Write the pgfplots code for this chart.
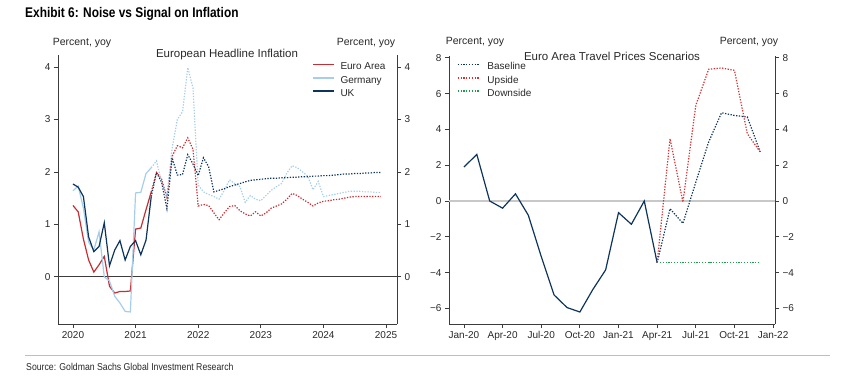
\documentclass[border=0pt]{standalone}
\usepackage{pgfplots}
\pgfplotsset{compat=1.18}
\usepackage{fontspec}
\setmainfont{Liberation Sans}
\newfontfamily\titlefont[FakeStretch=0.85]{Liberation Sans}
\newfontfamily\srcfont[FakeStretch=0.87]{Liberation Sans}
\definecolor{eared}{RGB}{200,45,50}
\definecolor{delight}{RGB}{166,206,236}
\definecolor{uknavy}{RGB}{12,52,92}
\definecolor{upred}{RGB}{210,50,50}
\definecolor{downgreen}{RGB}{30,155,80}
\definecolor{axgray}{RGB}{60,60,60}
\definecolor{txtgray}{RGB}{40,40,40}
\definecolor{zerogray}{RGB}{200,200,200}
\definecolor{sepgray}{RGB}{190,190,190}
\tikzset{dots/.style={dash pattern=on 1.3pt off 1.5pt}}
\pgfplotsset{
  gsaxis/.style={
    scale only axis,
    anchor=south west,
    axis line style={draw=axgray, line width=0.8pt, -},
    tick style={draw=axgray, line width=0.8pt},
    tick align=outside,
    major tick length=4pt,
    ticklabel style={font=\fontsize{10}{12}\selectfont, text=txtgray},
    /pgf/number format/assume math mode=true,
    /pgf/number format/1000 sep={},
    legend cell align=left,
    legend image code/.code={\draw[##1, line width=1.5pt] (0pt,3pt) -- (21pt,3pt);},
  },
  gslegend/.style={draw=none, fill=none, anchor=north west,
    font=\fontsize{10}{12}\selectfont, text=txtgray, row sep=4.3pt, column sep=6pt,
    inner sep=0pt, outer sep=0pt, nodes={inner sep=0pt, outer sep=0pt, text height=7pt, text depth=2pt}},
}
\begin{document}
\begin{tikzpicture}
\path[use as bounding box] (0pt,0pt) rectangle (850pt,383pt);

% Title
\node[anchor=west, inner sep=0pt, font=\titlefont\bfseries\fontsize{14}{16}\selectfont] at (25pt,369pt) {Exhibit 6: Noise vs Signal on Inflation};

% ---------- Left chart ----------
\begin{axis}[gsaxis, at={(58pt,59pt)}, width=339pt, height=269pt,
  xmin=-2.87, xmax=62.1, ymin=-0.9, ymax=4.23,
  axis x line*=bottom, axis y line*=left,
  xtick={0,12,24,36,48,60}, xticklabels={2020,2021,2022,2023,2024,2025},
  ytick={0,1,2,3,4},
  legend style={gslegend, at={(0.7493,0.97026)}},
]
\addplot[axgray, line width=0.7pt, forget plot] coordinates {(-2.87,0) (62.1,0)};
\addplot[eared, line width=1.2pt] coordinates {
(0,1.36) (1,1.24) (2,0.72) (3,0.32) (4,0.09) (5,0.23) (6,0.39) (7,-0.18) (8,-0.31) (9,-0.28) (10,-0.28) (11,-0.27) (12,0.91) (13,0.93) (14,1.28) (15,1.62)};
\addlegendentry{Euro Area}
\addplot[delight, line width=1.2pt] coordinates {
(0,1.64) (1,1.73) (2,1.31) (3,0.66) (4,0.51) (5,0.86) (6,0.0) (7,-0.08) (8,-0.37) (9,-0.50) (10,-0.66) (11,-0.67) (12,1.60) (13,1.61) (14,1.97) (15,2.08)};
\addlegendentry{Germany}
\addplot[uknavy, line width=1.2pt] coordinates {
(0,1.77) (1,1.71) (2,1.53) (3,0.76) (4,0.48) (5,0.58) (6,1.03) (7,0.21) (8,0.51) (9,0.69) (10,0.32) (11,0.58) (12,0.69) (13,0.42) (14,0.70) (15,1.53)};
\addlegendentry{UK}
% projections (dotted)
\addplot[eared, line width=1.2pt, dots, forget plot] coordinates {
(15,1.62) (16,1.99) (17,1.86) (18,1.51) (19,2.30) (20,2.50) (21,2.46) (22,2.65) (23,2.43) (24,1.35) (25,1.38) (26,1.36) (27,1.22) (28,1.09) (29,1.22) (30,1.34) (31,1.36) (32,1.26) (33,1.20) (34,1.16) (35,1.24) (36,1.16) (37,1.22) (38,1.31) (39,1.35) (40,1.39) (41,1.48) (42,1.59) (43,1.55) (44,1.48) (45,1.42) (46,1.35) (47,1.41) (48,1.44) (49,1.45) (50,1.47) (51,1.48) (52,1.50) (53,1.52) (54,1.53) (55,1.53) (56,1.53) (57,1.53) (58,1.53) (59,1.53)};
\addplot[delight, line width=1.2pt, dots, forget plot] coordinates {
(15,2.08) (16,2.21) (17,1.80) (18,1.55) (19,2.45) (20,3.00) (21,3.15) (22,3.99) (23,3.60) (24,1.75) (25,1.62) (26,1.57) (27,1.53) (28,1.48) (29,1.65) (30,1.85) (31,1.78) (32,1.72) (33,1.42) (34,1.55) (35,1.48) (36,1.45) (37,1.55) (38,1.65) (39,1.72) (40,1.78) (41,1.98) (42,2.12) (43,2.08) (44,2.00) (45,1.92) (46,1.66) (47,1.82) (48,1.53) (49,1.55) (50,1.57) (51,1.59) (52,1.61) (53,1.63) (54,1.63) (55,1.63) (56,1.62) (57,1.62) (58,1.61) (59,1.61)};
\addplot[uknavy, line width=1.2pt, dots, forget plot] coordinates {
(15,1.53) (16,1.99) (17,1.80) (18,1.30) (19,2.27) (20,1.94) (21,1.95) (22,2.33) (23,2.15) (24,1.93) (25,2.27) (26,2.10) (27,1.62) (28,1.65) (29,1.68) (30,1.72) (31,1.75) (32,1.78) (33,1.81) (34,1.84) (35,1.85) (36,1.86) (37,1.87) (38,1.88) (39,1.88) (40,1.89) (41,1.89) (42,1.90) (43,1.90) (44,1.91) (45,1.91) (46,1.92) (47,1.92) (48,1.93) (49,1.93) (50,1.94) (51,1.95) (52,1.96) (53,1.96) (54,1.97) (55,1.97) (56,1.98) (57,1.98) (58,1.99) (59,1.99)};
\end{axis}
\begin{axis}[gsaxis, at={(58pt,59pt)}, width=339pt, height=269pt,
  xmin=-2.87, xmax=62.1, ymin=-0.9, ymax=4.23,
  axis x line=none, axis y line*=right, ytick={0,1,2,3,4}]
\end{axis}
\node[font=\fontsize{10.5}{12}\selectfont, text=txtgray] at (82pt,340pt) {Percent, yoy};
\node[font=\fontsize{10.5}{12}\selectfont, text=txtgray] at (366pt,340pt) {Percent, yoy};
\node[font=\fontsize{11.5}{13}\selectfont, text=txtgray] at (227pt,328pt) {European Headline Inflation};

% ---------- Right chart ----------
\begin{axis}[gsaxis, at={(449pt,59pt)}, width=326pt, height=268pt,
  xmin=-1.16, xmax=24.15, ymin=-6.87, ymax=8.1,
  axis x line*=bottom, axis y line*=left,
  xtick={0,3,6,9,12,15,18,21,24},
  xticklabels={Jan-20,Apr-20,Jul-20,Oct-20,Jan-21,Apr-21,Jul-21,Oct-21,Jan-22},
  ytick={-6,-4,-2,0,2,4,6,8},
  yticklabels={−6,−4,−2,0,2,4,6,8},
  legend style={gslegend, at={(0.0245,0.97388)}, column sep=8pt},
]
\addplot[zerogray, line width=1.4pt, forget plot] coordinates {(-1.16,0) (24.15,0)};
\addplot[uknavy, line width=1.2pt, forget plot] coordinates {
(0,1.9) (1,2.6) (2,0.0) (3,-0.4) (4,0.4) (5,-0.8) (6,-3.1) (7,-5.25) (8,-5.95) (9,-6.2) (10,-4.95) (11,-3.85) (12,-0.65) (13,-1.3) (14,0.0) (15,-3.45)};
\addplot[uknavy, line width=1.2pt, dots] coordinates {
(15,-3.45) (16,-0.43) (17,-1.25) (18,1.05) (19,3.3) (20,4.93) (21,4.78) (22,4.69) (23,2.74)};
\addlegendentry{Baseline}
\addplot[upred, line width=1.2pt, dots] coordinates {
(15,-3.45) (16,3.48) (17,-0.06) (18,5.34) (19,7.36) (20,7.43) (21,7.3) (22,3.76) (23,2.74)};
\addlegendentry{Upside}
\addplot[downgreen, line width=1.2pt, dots] coordinates {
(15,-3.45) (16,-3.45) (17,-3.45) (18,-3.45) (19,-3.45) (20,-3.45) (21,-3.45) (22,-3.45) (23,-3.45)};
\addlegendentry{Downside}
\end{axis}
\begin{axis}[gsaxis, at={(449pt,59pt)}, width=326pt, height=268pt,
  xmin=-1.16, xmax=24.15, ymin=-6.87, ymax=8.1,
  axis x line=none, axis y line*=right,
  ytick={-6,-4,-2,0,2,4,6,8},
  yticklabels={−6,−4,−2,0,2,4,6,8}]
\end{axis}
\node[font=\fontsize{10.5}{12}\selectfont, text=txtgray] at (475pt,341pt) {Percent, yoy};
\node[font=\fontsize{10.5}{12}\selectfont, text=txtgray] at (749pt,341pt) {Percent, yoy};
\node[font=\fontsize{11.5}{13}\selectfont, text=txtgray] at (612pt,327pt) {Euro Area Travel Prices Scenarios};

% Source
\draw[sepgray, line width=0.8pt] (25pt,28pt) -- (830pt,28pt);
\node[anchor=west, inner sep=0pt, font=\srcfont\fontsize{10}{12}\selectfont, text=txtgray] at (26pt,16pt) {Source: Goldman Sachs Global Investment Research};
\end{tikzpicture}
\end{document}
